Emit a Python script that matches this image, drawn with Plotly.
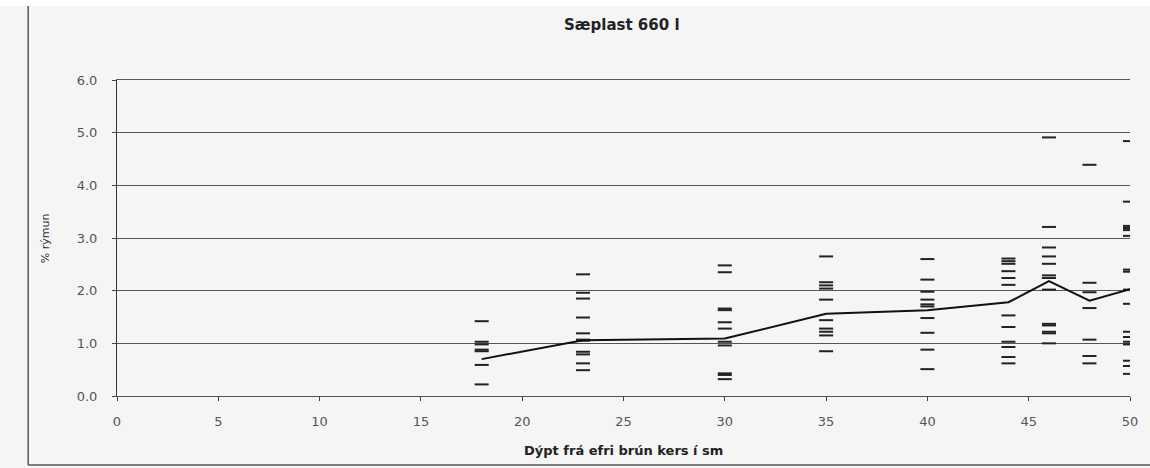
import plotly.graph_objects as go

# ---- data ----
depths = [18, 23, 30, 35, 40, 44, 46, 48, 50]
vals_18 = [1.42, 1.03, 0.98, 0.88, 0.85, 0.59, 0.22]
vals_23 = [2.31, 1.96, 1.85, 1.49, 1.19, 1.07, 1.05, 0.84, 0.79, 0.62, 0.49]
vals_30 = [2.48, 2.35, 1.66, 1.63, 1.40, 1.28, 1.03, 0.96, 0.43, 0.40, 0.32]
vals_35 = [2.65, 2.16, 2.10, 2.04, 1.83, 1.44, 1.28, 1.22, 1.15, 0.85]
vals_40 = [2.60, 2.21, 1.98, 1.83, 1.74, 1.70, 1.48, 1.20, 0.88, 0.51]
vals_44 = [2.61, 2.56, 2.51, 2.37, 2.24, 2.11, 1.53, 1.31, 1.03, 0.93, 0.74, 0.62]
vals_46 = [4.91, 3.21, 2.82, 2.65, 2.51, 2.29, 2.24, 2.02, 1.37, 1.34, 1.22, 1.19, 1.00]
vals_48 = [4.39, 2.15, 1.97, 1.67, 1.07, 0.76, 0.62]
vals_50 = [4.84, 3.69, 3.23, 3.19, 3.15, 3.04, 2.40, 2.36, 2.02, 1.75, 1.22, 1.12, 1.03, 0.98, 0.67, 0.57, 0.42]
mean_vals = [0.70, 1.06, 1.09, 1.56, 1.63, 1.78, 2.18, 1.81, 2.03]

x_ticks = [0, 5, 10, 15, 20, 25, 30, 35, 40, 45, 50]
y_ticks = [0, 1, 2, 3, 4, 5, 6]

title_text = "Sæplast 660 l"
x_title = "Dýpt frá efri brún kers í sm"
y_title = "% rýmun"

groups = [vals_18, vals_23, vals_30, vals_35, vals_40, vals_44, vals_46, vals_48, vals_50]
xs, ys = [], []
for d, vals in zip(depths, groups):
    xs += [d] * len(vals)
    ys += vals

fig = go.Figure()
fig.add_trace(go.Scatter(
    x=xs, y=ys, mode="markers",
    marker=dict(symbol="line-ew", size=10, color="#222",
                line=dict(width=2, color="#222")),
    showlegend=False, hoverinfo="x+y"))
fig.add_trace(go.Scatter(
    x=depths, y=mean_vals, mode="lines",
    line=dict(color="#111", width=2),
    showlegend=False))

font_family = "DejaVu Sans"
bg = "#f5f5f5"
fig.update_layout(
    width=1150, height=468,
    margin=dict(l=117, r=18, t=80, b=72),
    paper_bgcolor=bg, plot_bgcolor=bg,
    font=dict(family=font_family, size=12, color="#444"),
    xaxis=dict(range=[0, 50], tickvals=x_ticks, showgrid=False,
               zeroline=False, showline=True, linecolor="#555", linewidth=1,
               mirror=True,
               ticks="outside", ticklen=4, tickcolor="#444",
               ticklabelstandoff=9,
               tickfont=dict(size=13, color="#555")),
    yaxis=dict(range=[0, 6], tickvals=y_ticks, tickformat=".1f",
               showgrid=True, gridcolor="#555", gridwidth=1,
               zeroline=False, showline=True, linecolor="#333", linewidth=1,
               ticks="outside", ticklen=4, tickcolor="#444",
               ticklabelstandoff=12,
               tickfont=dict(size=13, color="#555")),
    annotations=[
        dict(text=title_text, xref="paper", yref="paper",
             x=(623 - 117) / 1015, y=(396 - 25) / 316,
             xanchor="center", yanchor="middle", showarrow=False,
             font=dict(size=15, color="#222", family=font_family, weight="bold")),
        dict(text=x_title, xref="paper", yref="paper",
             x=0.5, y=(396 - 450) / 316,
             xanchor="center", yanchor="middle", showarrow=False,
             font=dict(size=13, color="#222", family=font_family, weight="bold")),
        dict(text=y_title, xref="paper", yref="paper",
             x=(45 - 117) / 1015, y=0.5, textangle=-90,
             xanchor="center", yanchor="middle", showarrow=False,
             font=dict(size=11, color="#333", family=font_family)),
    ],
    shapes=[
        dict(type="rect", xref="paper", yref="paper",
             x0=-0.2, x1=1.1, y0=(396 - 6) / 316, y1=1.3,
             fillcolor="white", line=dict(width=0), layer="below"),
        dict(type="line", xref="paper", yref="paper",
             x0=(28 - 117) / 1015, x1=(28 - 117) / 1015,
             y0=(396 - 6) / 316, y1=(396 - 465) / 316,
             line=dict(color="#555", width=1.5)),
        dict(type="line", xref="paper", yref="paper",
             x0=(28 - 117) / 1015, x1=1.02,
             y0=(396 - 465) / 316, y1=(396 - 465) / 316,
             line=dict(color="#555", width=1.5)),
    ],
)

fig.write_html("out.html",
               config={"displayModeBar": False},
               post_script="document.body.style.margin='0';document.body.style.padding='0';")
